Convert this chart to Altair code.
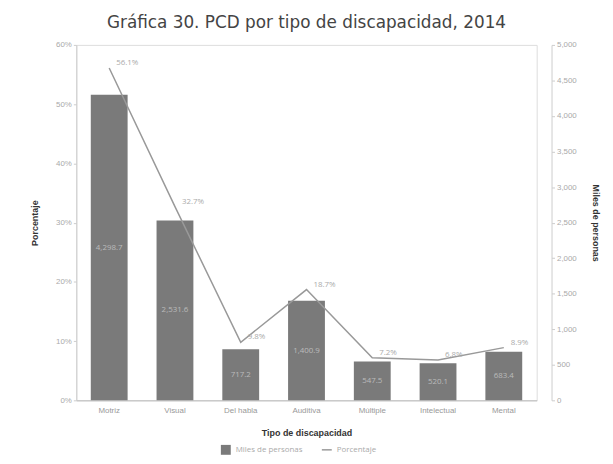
import altair as alt
import pandas as pd

categorias = ["Motriz", "Visual", "Del habla", "Auditiva", "Múltiple", "Intelectual", "Mental"]
miles = [4298.7, 2531.6, 717.2, 1400.9, 547.5, 520.1, 683.4]
porcentaje = [56.1, 32.7, 9.8, 18.7, 7.2, 6.8, 8.9]

df = pd.DataFrame({"tipo": categorias, "miles": miles, "pct": porcentaje})
df["mid"] = df["miles"] / 2
df["miles_lbl"] = [f"{v:,.1f}" for v in miles]
df["pct_lbl"] = [f"{v:.1f}%" for v in porcentaje]

FONT = "Open Sans"
x = alt.X("tipo:N", sort=categorias, title="Tipo de discapacidad",
          scale=alt.Scale(paddingInner=0.44, paddingOuter=0.22),
          axis=alt.Axis(labelAngle=0, labelColor="#999", labelFontSize=8, ticks=False,
                        domainColor="#bbb", titleFontSize=9, titleFontWeight="bold",
                        titleColor="#333", titlePadding=15, labelPadding=6))

right_axis = alt.Axis(orient="right", title="Miles de personas",
                      labelExpr="format(datum.value, ',')",
                      values=list(range(0, 5001, 500)), grid=False, offset=15,
                      labelColor="#aaa", labelFontSize=8, domainColor="#ccc",
                      tickColor="#ccc", tickSize=3, titleFontSize=9,
                      titleFontWeight="bold", titleColor="#333", titlePadding=14)
left_axis = alt.Axis(orient="left", title="Porcentaje",
                     values=list(range(0, 61, 10)), labelExpr="datum.value + '%'",
                     grid=False, labelColor="#aaa", labelFontSize=8,
                     domainColor="#ccc", tickColor="#ccc", tickSize=3,
                     titleFontSize=9, titleFontWeight="bold", titleColor="#333",
                     titlePadding=16)

bars = alt.Chart(df).mark_bar(color="#7a7a7a").encode(
    x=x,
    y=alt.Y("miles:Q", scale=alt.Scale(domain=[0, 5000]), axis=right_axis),
    fill=alt.Fill("serie:N",
                  legend=alt.Legend(title=None, symbolType="square", orient="none",
                                    legendX=145, legendY=403, labelColor="#aaa",
                                    labelFontSize=8, labelFont=FONT),
                  scale=alt.Scale(domain=["Miles de personas"], range=["#7a7a7a"])),
).transform_calculate(serie="'Miles de personas'")

bar_text = alt.Chart(df).mark_text(color="#bbb", fontSize=8, font=FONT).encode(
    x=alt.X("tipo:N", sort=categorias),
    y=alt.Y("mid:Q", axis=right_axis),
    text="miles_lbl:N",
)

line = alt.Chart(df).mark_line(color="#999", strokeWidth=1.5).encode(
    x=alt.X("tipo:N", sort=categorias),
    y=alt.Y("pct:Q", scale=alt.Scale(domain=[0, 60]), axis=left_axis),
    stroke=alt.Stroke("serie:N",
                      legend=alt.Legend(title=None, symbolType="stroke", orient="none",
                                        legendX=247, legendY=403, labelColor="#aaa",
                                        labelFontSize=8, labelFont=FONT),
                      scale=alt.Scale(domain=["Porcentaje"], range=["#999"])),
).transform_calculate(serie="'Porcentaje'")

line_text = alt.Chart(df).mark_text(color="#aaa", fontSize=8, font=FONT, align="left",
                                    dx=7, dy=-5).encode(
    x=alt.X("tipo:N", sort=categorias),
    y=alt.Y("pct:Q", axis=left_axis),
    text="pct_lbl:N",
)

chart = alt.layer(
    alt.layer(bars, bar_text),
    alt.layer(line, line_text),
).resolve_scale(y="independent", fill="independent", stroke="independent").properties(
    width=465, height=359,
    title=alt.Title("Gráfica 30. PCD por tipo de discapacidad, 2014", fontSize=17,
                    font="DejaVu Sans", fontWeight="normal", color="#444", offset=9),
).configure_view(stroke="transparent").configure_axis(labelFont=FONT, titleFont="Liberation Sans").configure_legend(
    symbolSize=60, padding=2
).configure(padding={"left": 22, "top": 4, "right": 5, "bottom": 5})

chart.save("out.html", embed_options={"renderer": "svg", "actions": False})
